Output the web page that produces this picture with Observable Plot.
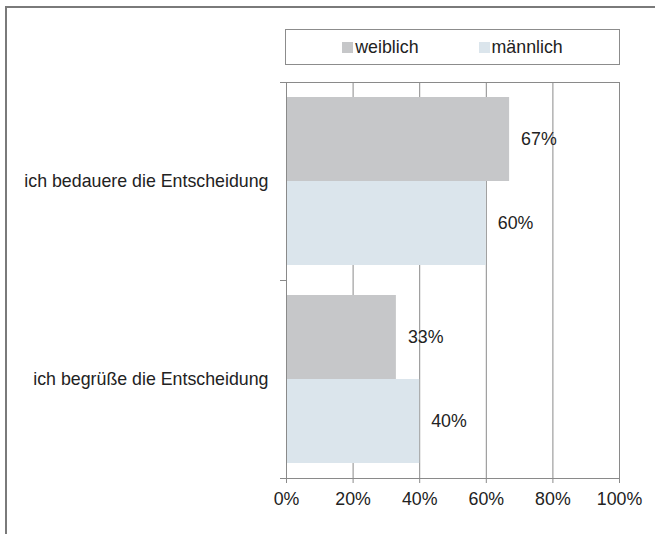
<!DOCTYPE html>
<html>
<head>
<meta charset="utf-8">
<script src="https://cdn.jsdelivr.net/npm/d3@7"></script>
<script src="https://cdn.jsdelivr.net/npm/@observablehq/plot@0.6"></script>
<style>
  html, body { margin: 0; padding: 0; background: #fff; overflow: hidden; }
  #wrap { position: relative; width: 655px; height: 534px; overflow: hidden; font-family: "Liberation Sans", Arial, sans-serif; }
  #border { position: absolute; left: 5px; top: 6px; width: 700px; height: 600px; border-left: 2px solid #7a7a7a; border-top: 2px solid #7a7a7a; box-sizing: border-box; }
  #chart { position: absolute; left: 0; top: 0; }
  #legend { position: absolute; left: 285px; top: 29px; width: 335px; height: 36px; box-sizing: border-box; border: 1px solid #8c8c8c; display: flex; align-items: center; justify-content: center; gap: 60px; font-size: 17.8px; color: #222; }
  .item { display: flex; align-items: center; gap: 2px; }
  .sw { width: 11px; height: 11px; display: inline-block; }
</style>
</head>
<body>
<div id="wrap">
  <div id="border"></div>
  <div id="chart"></div>
  <div id="legend"></div>
</div>
<script>
const categories = ["ich bedauere die Entscheidung", "ich begrüße die Entscheidung"];
const seriesNames = ["weiblich", "männlich"];
const weiblich = [0.67, 0.33];
const maennlich = [0.60, 0.40];
const xTicks = [0, 0.2, 0.4, 0.6, 0.8, 1];
const seriesColors = ["#c6c7c9", "#dbe5ec"];

const width = 655, height = 534;
const marginTop = 82, marginBottom = 56, marginLeft = 286, marginRight = 36;
const step = (height - marginTop - marginBottom) / categories.length;
const pad = step * 15 / 198;
const barH = (step - 2 * pad) / 2;

const wData = categories.map((c, i) => ({category: c, value: weiblich[i]}));
const mData = categories.map((c, i) => ({category: c, value: maennlich[i]}));
const fmt = d3.format(".0%");
const grid = "#8a8a8a";
const fs = 17.8;

const plot = Plot.plot({
  width, height, marginTop, marginBottom, marginLeft, marginRight,
  style: {fontFamily: "'Liberation Sans', Arial, sans-serif", fontSize: fs + "px", color: "#222", background: "transparent"},
  x: {domain: [0, 1]},
  y: {domain: categories, padding: 0},
  marks: [
    Plot.gridX(xTicks.slice(1), {stroke: grid, strokeOpacity: 1}),
    Plot.barX(wData, {y: "category", x: "value", fill: seriesColors[0], insetTop: pad, insetBottom: pad + barH}),
    Plot.barX(mData, {y: "category", x: "value", fill: seriesColors[1], insetTop: pad + barH, insetBottom: pad}),
    Plot.text(wData, {y: "category", x: "value", text: d => fmt(d.value), dx: 11.5, dy: -barH / 2, textAnchor: "start", fill: "#222", fontSize: fs}),
    Plot.text(mData, {y: "category", x: "value", text: d => fmt(d.value), dx: 11.5, dy: barH / 2, textAnchor: "start", fill: "#222", fontSize: fs}),
    Plot.ruleX([0], {stroke: grid}),
    Plot.frame({anchor: "top", stroke: grid, insetLeft: -6}),
    Plot.frame({anchor: "bottom", stroke: grid, insetLeft: -6}),
    Plot.ruleY(categories.slice(1), {y: d => d, dy: -step / 2, x1: 0, x2: 0, insetLeft: -6, stroke: grid}),
    Plot.axisX(xTicks, {tickFormat: fmt, tickSize: 5, tickPadding: 9, stroke: grid, fill: "#222", fontSize: fs, label: null}),
    Plot.axisY({tickSize: 0, tickPadding: 18, fill: "#222", fontSize: fs, label: null})
  ]
});
document.getElementById("chart").appendChild(plot);

const legend = document.getElementById("legend");
seriesNames.forEach((s, i) => {
  const item = document.createElement("div");
  item.className = "item";
  const sw = document.createElement("span");
  sw.className = "sw";
  sw.style.background = seriesColors[i];
  const t = document.createElement("span");
  t.textContent = s;
  item.appendChild(sw);
  item.appendChild(t);
  legend.appendChild(item);
});
</script>
</body>
</html>
